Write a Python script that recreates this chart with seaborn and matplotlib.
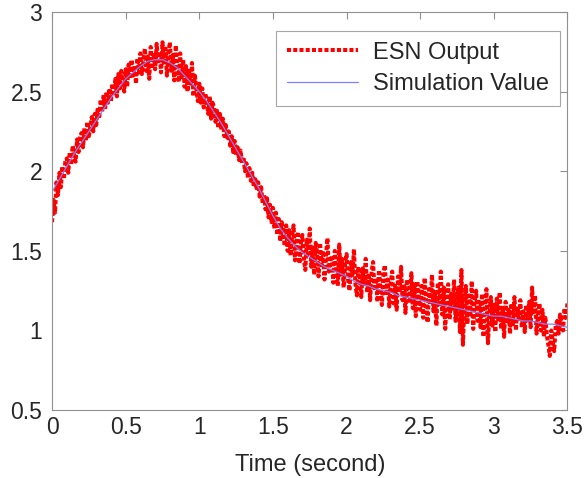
import matplotlib
matplotlib.use('Agg')
import matplotlib.pyplot as plt
import pandas as pd
import seaborn as sns
import numpy as np

# simulated (reference) curve, sampled every 0.05 s
sim_values = [1.87, 1.95, 2.03, 2.11, 2.18, 2.25, 2.32, 2.39, 2.46, 2.52,
              2.58, 2.62, 2.66, 2.69, 2.70, 2.70, 2.68, 2.65, 2.60, 2.55,
              2.50, 2.44, 2.37, 2.30, 2.22, 2.14, 2.06, 1.98, 1.90, 1.81,
              1.72, 1.64, 1.58, 1.53, 1.49, 1.46, 1.43, 1.40, 1.38, 1.36,
              1.34, 1.31, 1.29, 1.28, 1.26, 1.25, 1.24, 1.22, 1.21, 1.20,
              1.19, 1.18, 1.17, 1.16, 1.15, 1.14, 1.13, 1.12, 1.11, 1.10,
              1.09, 1.09, 1.08, 1.07, 1.06, 1.06, 1.05, 1.04, 1.04, 1.03,
              1.02]

# ESN output, sampled every 0.01 s
esn_values = [
    1.68, 1.82, 1.74, 1.93, 1.85, 1.99, 1.90, 2.03, 1.95, 2.06,
    2.08, 1.99, 2.12, 2.04, 2.16, 2.09, 2.06, 2.20, 2.12, 2.21,
    2.24, 2.15, 2.27, 2.19, 2.31, 2.22, 2.28, 2.34, 2.25, 2.36,
    2.29, 2.40, 2.33, 2.45, 2.37, 2.48, 2.39, 2.50, 2.43, 2.52,
    2.44, 2.55, 2.49, 2.58, 2.47, 2.61, 2.52, 2.63, 2.55, 2.50,
    2.64, 2.53, 2.67, 2.58, 2.70, 2.60, 2.66, 2.55, 2.71, 2.62,
    2.74, 2.61, 2.69, 2.77, 2.63, 2.72, 2.58, 2.78, 2.66, 2.73,
    2.64, 2.80, 2.69, 2.75, 2.62, 2.81, 2.67, 2.77, 2.60, 2.74,
    2.81, 2.63, 2.73, 2.57, 2.79, 2.66, 2.56, 2.74, 2.59, 2.70,
    2.53, 2.66, 2.50, 2.63, 2.55, 2.68, 2.47, 2.60, 2.52, 2.44,
    2.55, 2.43, 2.52, 2.40, 2.49, 2.45, 2.36, 2.47, 2.33, 2.43,
    2.40, 2.31, 2.38, 2.27, 2.36, 2.26, 2.33, 2.22, 2.29, 2.21,
    2.25, 2.16, 2.22, 2.12, 2.19, 2.10, 2.15, 2.07, 2.13, 2.05,
    2.09, 2.00, 2.05, 1.96, 2.02, 1.94, 1.99, 1.90, 1.95, 1.88,
    1.93, 1.84, 1.90, 1.80, 1.85, 1.76, 1.83, 1.71, 1.79, 1.68,
    1.77, 1.64, 1.74, 1.60, 1.70, 1.56, 1.68, 1.62, 1.53, 1.66,
    1.50, 1.63, 1.47, 1.59, 1.66, 1.44, 1.56, 1.62, 1.42, 1.55,
    1.60, 1.45, 1.38, 1.57, 1.48, 1.64, 1.40, 1.52, 1.35, 1.55,
    1.49, 1.34, 1.55, 1.41, 1.50, 1.32, 1.46, 1.58, 1.37, 1.44,
    1.47, 1.30, 1.50, 1.38, 1.28, 1.54, 1.35, 1.45, 1.27, 1.42,
    1.48, 1.32, 1.25, 1.43, 1.35, 1.51, 1.29, 1.22, 1.40, 1.33,
    1.21, 1.39, 1.28, 1.45, 1.24, 1.36, 1.19, 1.37, 1.43, 1.25,
    1.33, 1.18, 1.38, 1.27, 1.16, 1.36, 1.41, 1.22, 1.32, 1.15,
    1.30, 1.37, 1.17, 1.28, 1.13, 1.34, 1.24, 1.40, 1.19, 1.29,
    1.11, 1.32, 1.22, 1.17, 1.36, 1.14, 1.29, 1.09, 1.31, 1.21,
    1.13, 1.28, 1.08, 1.33, 1.19, 1.05, 1.26, 1.16, 1.35, 1.12,
    1.24, 1.03, 1.30, 1.15, 1.37, 1.10, 1.27, 1.01, 1.20, 1.29,
    1.07, 1.23, 1.12, 1.32, 1.06, 1.19, 1.27, 0.99, 1.38, 0.91,
    1.16, 1.28, 1.04, 1.22, 1.10, 1.31, 1.01, 1.18, 1.25, 1.06,
    1.18, 1.02, 1.23, 0.96, 1.14, 1.26, 0.92, 1.11, 1.21, 1.03,
    1.16, 0.99, 1.20, 1.07, 1.24, 1.01, 1.14, 0.96, 1.18, 1.04,
    1.13, 0.98, 1.17, 1.04, 1.21, 1.00, 1.15, 1.06, 1.19, 1.02,
    1.12, 0.99, 1.16, 1.05, 1.18, 1.02, 1.27, 1.10, 1.22, 0.98,
    1.10, 1.17, 1.00, 1.13, 0.96, 1.08, 0.97, 0.91, 0.84, 1.00,
    0.93, 0.87, 1.03, 1.06, 0.98, 1.10, 1.03, 1.00, 1.14, 1.08,
    1.17]

t_esn = np.linspace(0, 3.5, len(esn_values))
t_sim = np.linspace(0, 3.5, len(sim_values))
esn_df = pd.DataFrame({'time': t_esn, 'value': esn_values})
sim_df = pd.DataFrame({'time': t_sim, 'value': sim_values})

sns.set_style('white')
plt.rcParams['font.family'] = ['Liberation Sans', 'DejaVu Sans']

fig = plt.figure(figsize=(5.85, 4.78), dpi=100)
ax = fig.add_axes([0.089, 0.142, 0.881, 0.833])

sns.lineplot(data=esn_df, x='time', y='value', ax=ax, color='red',
             linestyle=(0, (1, 0.55)), linewidth=2.9, label='ESN Output')
sns.lineplot(data=sim_df, x='time', y='value', ax=ax, color='#8080ff',
             linewidth=0.9, label='Simulation Value')

ax.set_xlim(0, 3.5)
ax.set_ylim(0.5, 3)
ax.set_xticks([0, 0.5, 1, 1.5, 2, 2.5, 3, 3.5])
ax.set_xticklabels(['0', '0.5', '1', '1.5', '2', '2.5', '3', '3.5'])
ax.set_yticks([0.5, 1, 1.5, 2, 2.5, 3])
ax.set_yticklabels(['0.5', '1', '1.5', '2', '2.5', '3'])
ax.set_xlabel('Time (second)', fontsize=17, labelpad=11)
ax.set_ylabel('')

for s in ax.spines.values():
    s.set_color('#909090')
    s.set_linewidth(0.8)
ax.tick_params(direction='in', length=5, width=0.8, color='#909090',
               labelsize=16.5, top=True, right=True)
ax.tick_params(axis='x', pad=4)
ax.tick_params(axis='y', pad=7)

leg = ax.legend(loc='upper right', bbox_to_anchor=(0.985, 0.952), fontsize=17,
                fancybox=False, frameon=True, edgecolor='#909090',
                handlelength=3.0, handletextpad=0.65, borderpad=0.45,
                labelspacing=0.4, borderaxespad=0)
leg.get_frame().set_linewidth(0.8)

fig.savefig('out.png', dpi=100)
